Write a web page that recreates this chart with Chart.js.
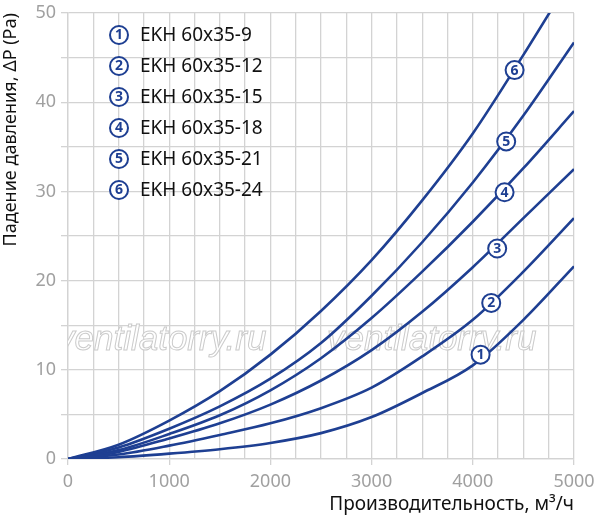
<!DOCTYPE html>
<html>
<head>
<meta charset="utf-8">
<script src="https://cdn.jsdelivr.net/npm/chart.js@4.4.1/dist/chart.umd.min.js"></script>
<style>
html,body{margin:0;padding:0;background:#fff;}
#wrap{width:597px;height:523px;position:relative;}
</style>
</head>
<body>
<div id="wrap"><canvas id="c" width="597" height="523"></canvas></div>
<script>
// ---- data ----
const flow = [0, 500, 1000, 1500, 2000, 2500, 3000, 3500, 4000, 4500, 5000];
const seriesNames = ['EKH 60x35-9', 'EKH 60x35-12', 'EKH 60x35-15', 'EKH 60x35-18', 'EKH 60x35-21', 'EKH 60x35-24'];
const s1 = [0, 0.2, 0.6, 1.1, 1.8, 2.9, 4.7, 7.4, 10.5, 15.6, 21.6];
const s2 = [0, 0.5, 1.5, 2.7, 4.0, 5.7, 8.0, 11.5, 15.6, 21.0, 27.0];
const s3 = [0, 0.8, 2.3, 4.0, 6.1, 8.8, 12.2, 16.5, 21.5, 27.0, 32.5];
const s4 = [0, 1.0, 2.8, 4.9, 7.7, 11.3, 15.8, 21.0, 26.6, 32.6, 39.0];
const s5 = [0, 1.3, 3.4, 5.9, 9.0, 13.0, 18.3, 24.3, 31.0, 38.5, 46.7];
const s6 = [0, 1.6, 4.3, 7.6, 11.7, 16.6, 22.3, 29.0, 36.5, 45.3, 54.5];
const labelFlow = [4077, 4182, 4241, 4314, 4330, 4413];
const labelDp = [11.7, 17.5, 23.6, 29.9, 35.6, 43.6];
const xTicks = [0, 1000, 2000, 3000, 4000, 5000];
const yTicks = [0, 10, 20, 30, 40, 50];
const watermark = 'ventilatorry.ru';

const BLUE = '#1e3f92';
const GRID = '#d3d3d3';
const FONT = "'Noto Sans', 'DejaVu Sans', sans-serif";
const allSeries = [s1, s2, s3, s4, s5, s6];

function circled(ctx, x, y, n) {
  ctx.save();
  ctx.beginPath();
  ctx.arc(x, y, 9, 0, Math.PI * 2);
  ctx.fillStyle = '#fff';
  ctx.fill();
  ctx.lineWidth = 2;
  ctx.strokeStyle = BLUE;
  ctx.stroke();
  ctx.fillStyle = BLUE;
  ctx.font = "bold 14px " + FONT;
  ctx.textAlign = 'center';
  ctx.textBaseline = 'middle';
  ctx.fillText(String(n), x, y + 0.5);
  ctx.restore();
}

const decor = {
  id: 'decor',
  beforeDatasetsDraw(chart) {
    const ctx = chart.ctx, a = chart.chartArea;
    ctx.save();
    ctx.beginPath();
    ctx.rect(a.left, a.top, a.right - a.left, a.bottom - a.top);
    ctx.clip();
    ctx.font = "italic 35px 'Liberation Sans', Arial, sans-serif";
    ctx.textBaseline = 'alphabetic';
    ctx.textAlign = 'left';
    ctx.lineWidth = 1;
    ctx.strokeStyle = '#cbcbcb';
    ctx.fillStyle = '#ffffff';
    [a.left - 11, a.left + 259].forEach(x => {
      ctx.fillText(watermark, x, a.top + 337);
      ctx.strokeText(watermark, x, a.top + 337);
    });
    ctx.restore();
  },
  afterDatasetsDraw(chart) {
    const ctx = chart.ctx, xs = chart.scales.x, ys = chart.scales.y;
    labelFlow.forEach((v, i) => {
      circled(ctx, xs.getPixelForValue(v), ys.getPixelForValue(labelDp[i]), i + 1);
    });
    const a = chart.chartArea;
    seriesNames.forEach((name, i) => {
      const cx = a.left + 51, cy = a.top + 22 + i * 31;
      circled(ctx, cx, cy, i + 1);
      ctx.save();
      ctx.fillStyle = '#111';
      ctx.font = "19px " + FONT;
      ctx.textAlign = 'left';
      ctx.textBaseline = 'middle';
      ctx.fillText(name, cx + 21, cy + 1);
      ctx.restore();
    });
  }
};

new Chart(document.getElementById('c'), {
  type: 'line',
  data: {
    datasets: allSeries.map((s, i) => ({
      label: seriesNames[i],
      data: flow.map((f, j) => ({ x: f, y: s[j] })),
      borderColor: BLUE,
      borderWidth: 2.6,
      pointRadius: 0,
      fill: false,
      cubicInterpolationMode: 'monotone'
    }))
  },
  options: {
    responsive: false,
    animation: false,
    devicePixelRatio: 1,
    layout: { padding: { left: 0, right: 23, top: 13, bottom: 0 } },
    plugins: { legend: { display: false }, tooltip: { enabled: false } },
    scales: {
      x: {
        type: 'linear', min: 0, max: 5000,
        afterFit(scale) { scale.height = 64; scale.paddingLeft = 0; scale.paddingRight = 0; },
        ticks: {
          stepSize: 250, autoSkip: false, maxRotation: 0,
          color: '#a0a0a0', font: { family: FONT, size: 18 }, padding: 6,
          callback: v => xTicks.includes(v) ? String(v) : ''
        },
        grid: {
          color: GRID, lineWidth: 1.3, tickLength: 6,
          tickColor: c => (c.tick && xTicks.includes(c.tick.value)) ? GRID : 'rgba(0,0,0,0)'
        },
        border: { color: GRID, width: 1.3 },
        title: {
          display: true, text: 'Производительность, м³/ч', align: 'end',
          color: '#111', font: { family: FONT, size: 19 }, padding: { top: 0, bottom: 7 }
        }
      },
      y: {
        type: 'linear', min: 0, max: 50,
        afterFit(scale) { scale.width = 68; scale.paddingTop = 0; scale.paddingBottom = 0; },
        ticks: {
          stepSize: 5, autoSkip: false,
          color: '#a0a0a0', font: { family: FONT, size: 18 }, padding: 5,
          callback: v => yTicks.includes(v) ? String(v) : ''
        },
        grid: { color: GRID, lineWidth: 1.3, tickLength: 7, tickColor: GRID },
        border: { color: GRID, width: 1.3 },
        title: {
          display: true, text: 'Падение давления, ΔP (Pa)', align: 'end',
          color: '#111', font: { family: FONT, size: 18 }, padding: { top: 0, bottom: 2 }
        }
      }
    }
  },
  plugins: [decor]
});
</script>
</body>
</html>
